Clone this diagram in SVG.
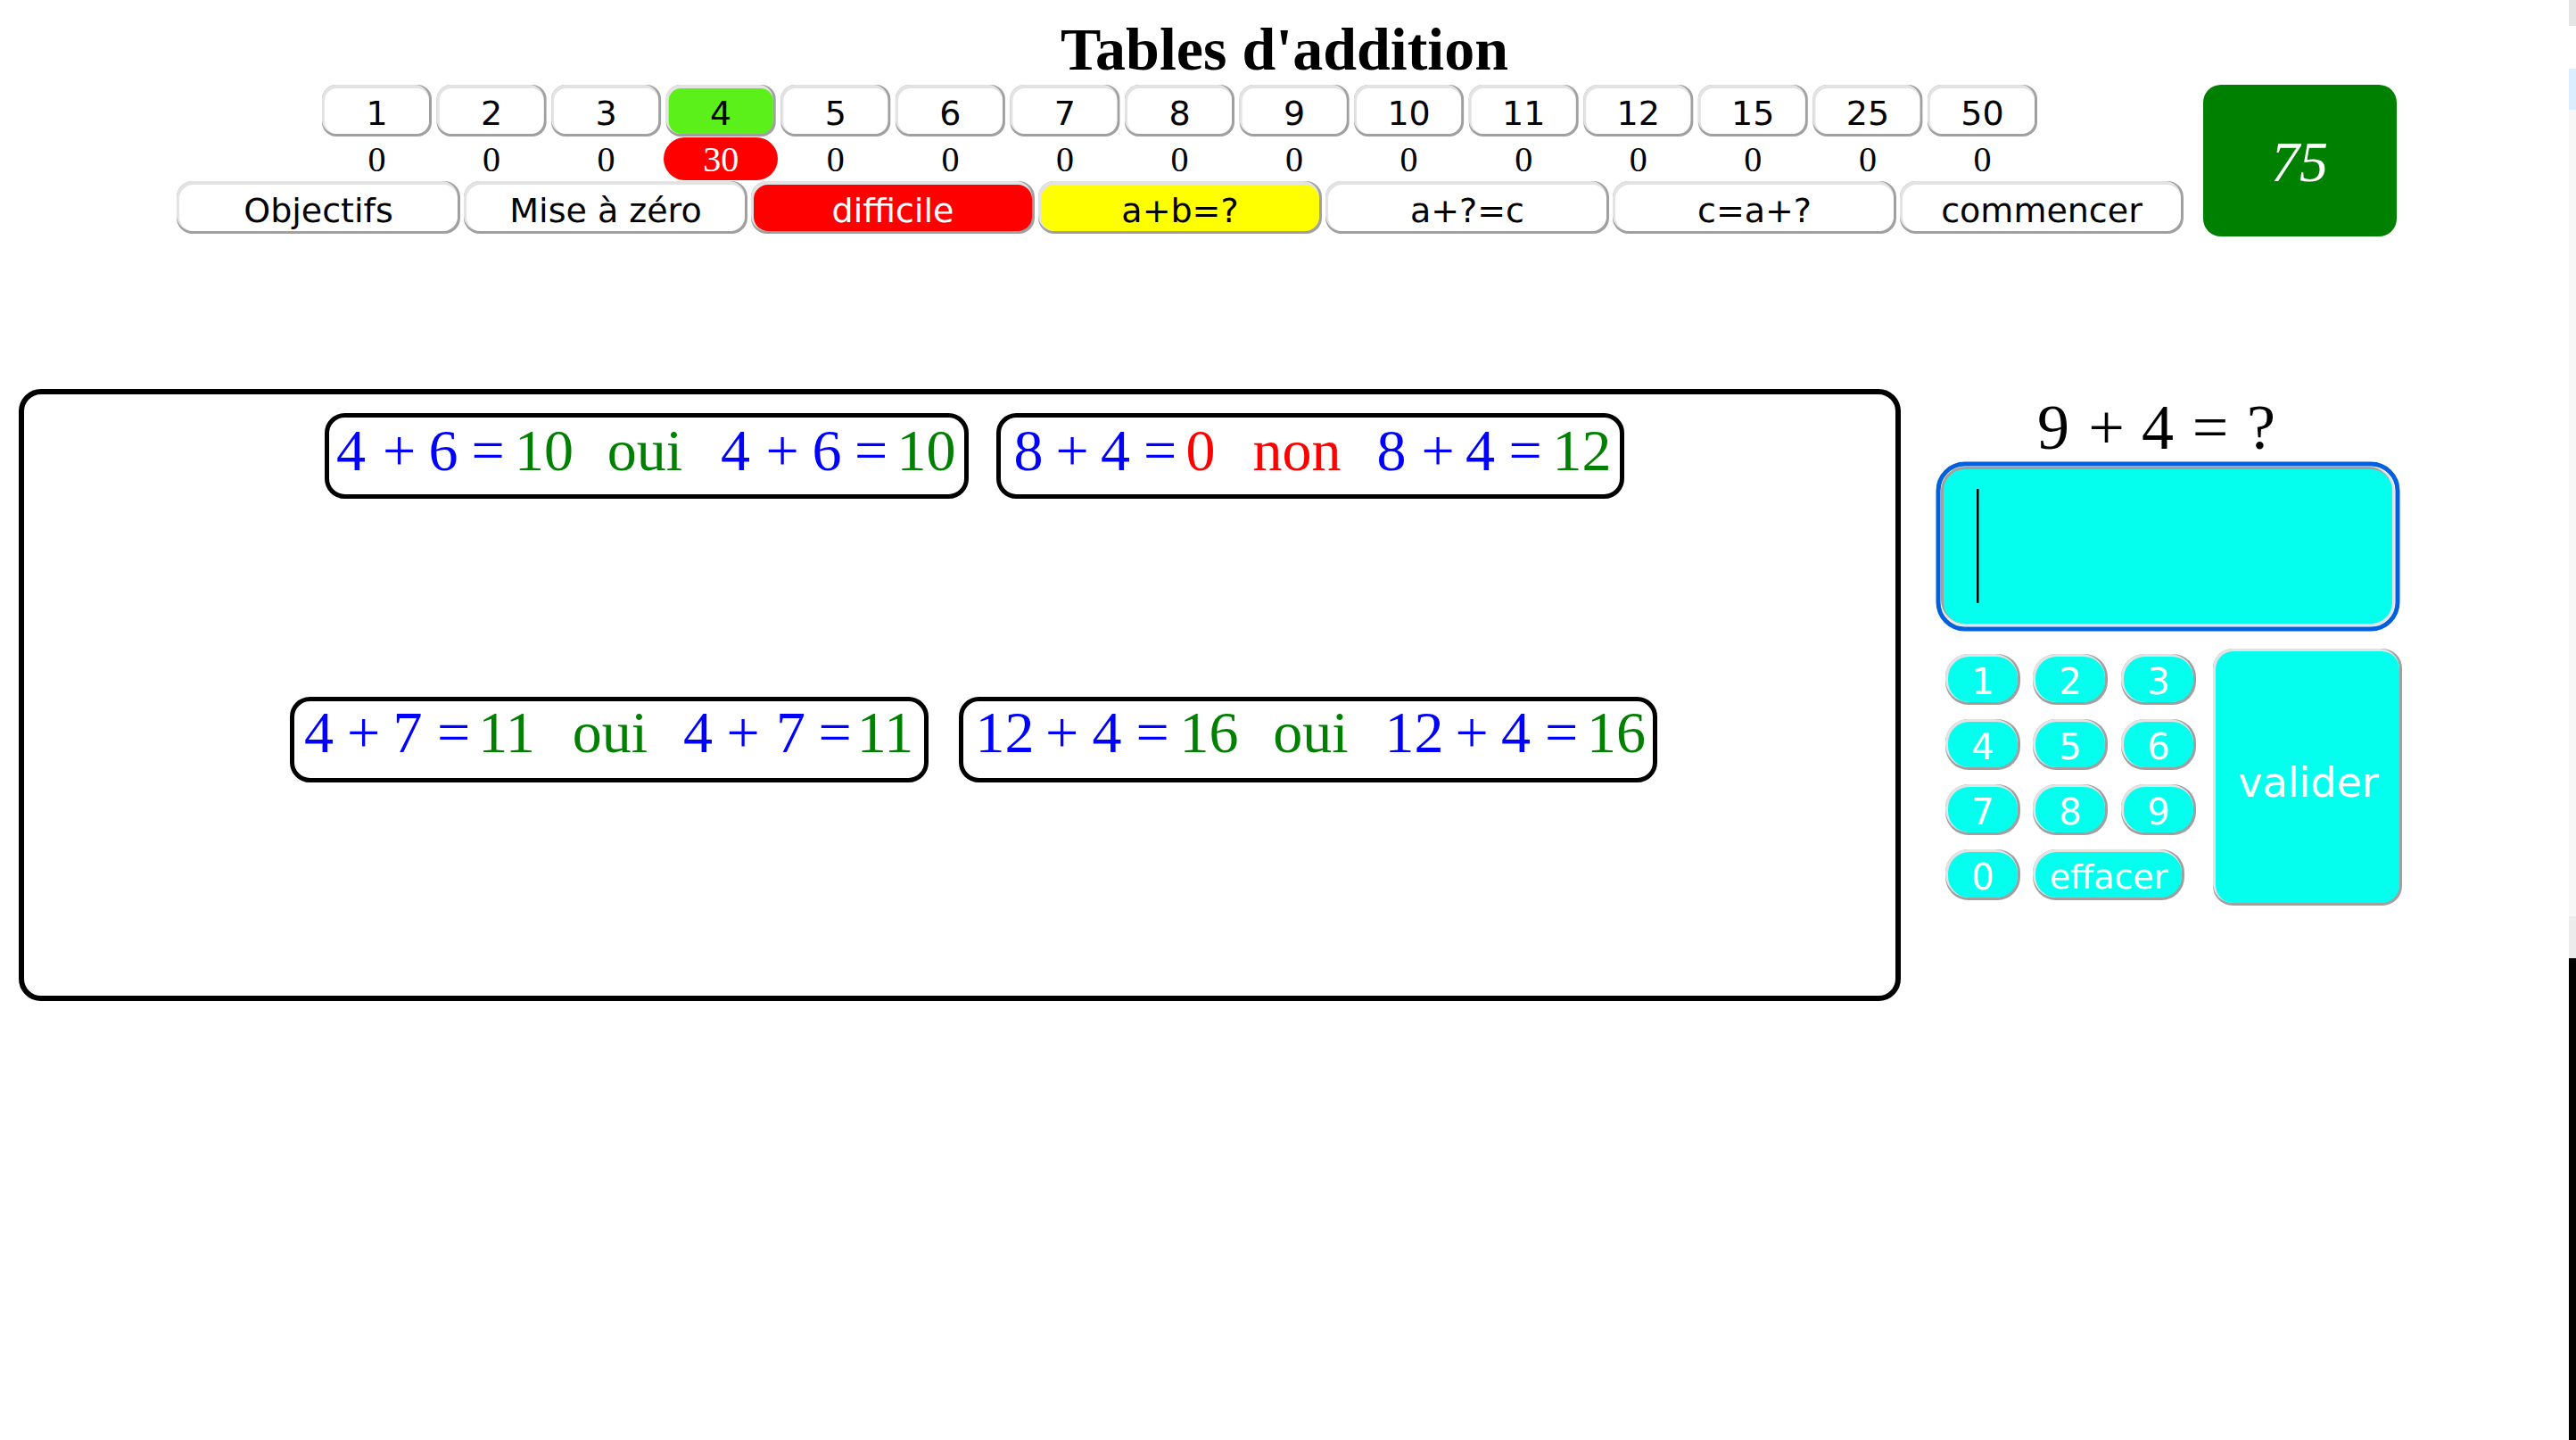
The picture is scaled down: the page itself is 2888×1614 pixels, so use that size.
<svg xmlns="http://www.w3.org/2000/svg" xmlns:xlink="http://www.w3.org/1999/xlink" width="2888" height="1614" viewBox="0 0 2888 1614">
<style>
.ti{font-family:"Liberation Serif","Times New Roman",serif;font-weight:bold;font-size:68px;fill:#000;text-anchor:middle}
.bt{font-family:"DejaVu Sans",Verdana,sans-serif;font-size:38px;fill:#000;text-anchor:middle}
.ct{font-family:"Liberation Serif","Times New Roman",serif;font-size:40px;fill:#000;text-anchor:middle}
.eq{font-family:"Liberation Serif","Times New Roman",serif;font-size:66px;text-anchor:middle}
.b{fill:#0000ff}.g{fill:#008000}.r{fill:#ff0000}
.q{font-family:"Liberation Serif","Times New Roman",serif;font-size:72px;fill:#000;text-anchor:middle}
.kp{font-family:"DejaVu Sans",Verdana,sans-serif;font-size:40px;fill:#fff;text-anchor:middle}
.box{fill:none;stroke:#000;stroke-width:5}
.dk{fill:#a0a0a0}.lt{fill:#e3e3e3}
</style>
<defs>
<g id="btnN"><rect class="dk" x="0" y="0" width="123" height="58" rx="16"/><rect class="lt" x="0" y="0" width="120" height="55" rx="16"/><rect x="3" y="4" width="117" height="51" rx="14" fill="currentColor"/></g>
<g id="btnW"><rect class="dk" x="0" y="0" width="318" height="59" rx="18"/><rect class="lt" x="0" y="0" width="315" height="56" rx="18"/><rect x="3" y="4" width="312" height="52" rx="16" fill="currentColor"/></g>
<g id="btnK"><rect class="dk" x="0" y="0" width="84" height="57" rx="26"/><rect class="lt" x="0" y="0" width="81" height="54" rx="26"/><rect x="3" y="3" width="78" height="51" rx="24" fill="#05ffee"/></g>
</defs>

<rect x="0" y="0" width="2888" height="1614" fill="#ffffff"/>

<g id="title"><text class="ti" x="1440" y="78">Tables d'addition</text></g>

<g id="tables">
<use xlink:href="#btnN" x="361" y="95" style="color:#fff"/><text class="bt" x="422.5" y="140">1</text>
<use xlink:href="#btnN" x="489.6" y="95" style="color:#fff"/><text class="bt" x="551.1" y="140">2</text>
<use xlink:href="#btnN" x="618.1" y="95" style="color:#fff"/><text class="bt" x="679.6" y="140">3</text>
<use xlink:href="#btnN" x="746.7" y="95" style="color:#5bf01a"/><text class="bt" x="808.2" y="140">4</text>
<use xlink:href="#btnN" x="875.3" y="95" style="color:#fff"/><text class="bt" x="936.8" y="140">5</text>
<use xlink:href="#btnN" x="1003.9" y="95" style="color:#fff"/><text class="bt" x="1065.4" y="140">6</text>
<use xlink:href="#btnN" x="1132.4" y="95" style="color:#fff"/><text class="bt" x="1193.9" y="140">7</text>
<use xlink:href="#btnN" x="1261" y="95" style="color:#fff"/><text class="bt" x="1322.5" y="140">8</text>
<use xlink:href="#btnN" x="1389.6" y="95" style="color:#fff"/><text class="bt" x="1451.1" y="140">9</text>
<use xlink:href="#btnN" x="1518.1" y="95" style="color:#fff"/><text class="bt" x="1579.6" y="140">10</text>
<use xlink:href="#btnN" x="1646.7" y="95" style="color:#fff"/><text class="bt" x="1708.2" y="140">11</text>
<use xlink:href="#btnN" x="1775.3" y="95" style="color:#fff"/><text class="bt" x="1836.8" y="140">12</text>
<use xlink:href="#btnN" x="1903.8" y="95" style="color:#fff"/><text class="bt" x="1965.3" y="140">15</text>
<use xlink:href="#btnN" x="2032.4" y="95" style="color:#fff"/><text class="bt" x="2093.9" y="140">25</text>
<use xlink:href="#btnN" x="2161" y="95" style="color:#fff"/><text class="bt" x="2222.5" y="140">50</text>
</g>

<g id="counts">
<rect x="744" y="154" width="128" height="48" rx="24" fill="#ff0000"/>
<text class="ct" x="422.5" y="192">0</text>
<text class="ct" x="551.1" y="192">0</text>
<text class="ct" x="679.6" y="192">0</text>
<text class="ct" x="808.2" y="192" style="fill:#fff">30</text>
<text class="ct" x="936.8" y="192">0</text>
<text class="ct" x="1065.4" y="192">0</text>
<text class="ct" x="1193.9" y="192">0</text>
<text class="ct" x="1322.5" y="192">0</text>
<text class="ct" x="1451.1" y="192">0</text>
<text class="ct" x="1579.6" y="192">0</text>
<text class="ct" x="1708.2" y="192">0</text>
<text class="ct" x="1836.8" y="192">0</text>
<text class="ct" x="1965.3" y="192">0</text>
<text class="ct" x="2093.9" y="192">0</text>
<text class="ct" x="2222.5" y="192">0</text>
</g>

<g id="actions">
<use xlink:href="#btnW" x="198" y="203" style="color:#fff"/><text class="bt" x="357" y="249">Objectifs</text>
<use xlink:href="#btnW" x="520" y="203" style="color:#fff"/><text class="bt" x="679" y="249">Mise à zéro</text>
<use xlink:href="#btnW" x="842" y="203" style="color:#ff0000"/><text class="bt" x="1001" y="249" style="fill:#fff">difficile</text>
<use xlink:href="#btnW" x="1164" y="203" style="color:#ffff00"/><text class="bt" x="1323" y="249">a+b=?</text>
<use xlink:href="#btnW" x="1486" y="203" style="color:#fff"/><text class="bt" x="1645" y="249">a+?=c</text>
<use xlink:href="#btnW" x="1808" y="203" style="color:#fff"/><text class="bt" x="1967" y="249">c=a+?</text>
<use xlink:href="#btnW" x="2130" y="203" style="color:#fff"/><text class="bt" x="2289" y="249">commencer</text>
</g>

<g id="score">
<rect x="2470" y="95" width="217" height="170" rx="20" fill="#008000"/>
<text x="2578" y="203" style="font-family:'Liberation Serif','Times New Roman',serif;font-style:italic;font-size:64px;fill:#fff;text-anchor:middle">75</text>
</g>

<g id="history">
<rect x="24" y="439" width="2104" height="680" rx="22" fill="none" stroke="#000" stroke-width="6"/>
</g>

<g id="result1">
<rect class="box" x="366.5" y="465.5" width="717" height="91" rx="20"/>
<text class="eq b" x="393.5" y="527">4</text><text class="eq b" x="447.5" y="527">+</text><text class="eq b" x="497" y="527">6</text><text class="eq b" x="547" y="527">=</text><text class="eq g" x="610" y="527">10</text>
<text class="eq g" x="723" y="527">oui</text>
<text class="eq b" x="824.5" y="527">4</text><text class="eq b" x="877" y="527">+</text><text class="eq b" x="927" y="527">6</text><text class="eq b" x="976.5" y="527">=</text><text class="eq g" x="1038.5" y="527">10</text>
</g>

<g id="result2">
<rect class="box" x="1119.5" y="465.5" width="699" height="91" rx="20"/>
<text class="eq b" x="1153" y="527">8</text><text class="eq b" x="1202" y="527">+</text><text class="eq b" x="1250.5" y="527">4</text><text class="eq b" x="1300.5" y="527">=</text><text class="eq r" x="1346" y="527">0</text>
<text class="eq r" x="1454" y="527">non</text>
<text class="eq b" x="1560" y="527">8</text><text class="eq b" x="1612" y="527">+</text><text class="eq b" x="1659.5" y="527">4</text><text class="eq b" x="1710" y="527">=</text><text class="eq g" x="1773.5" y="527">12</text>
</g>

<g id="result3">
<rect class="box" x="327.5" y="783.5" width="711" height="91" rx="20"/>
<text class="eq b" x="357.5" y="843">4</text><text class="eq b" x="407.5" y="843">+</text><text class="eq b" x="457" y="843">7</text><text class="eq b" x="508.5" y="843">=</text><text class="eq g" x="568" y="843">11</text>
<text class="eq g" x="684" y="843">oui</text>
<text class="eq b" x="782.5" y="843">4</text><text class="eq b" x="833" y="843">+</text><text class="eq b" x="886.5" y="843">7</text><text class="eq b" x="936" y="843">=</text><text class="eq g" x="992.5" y="843">11</text>
</g>

<g id="result4">
<rect class="box" x="1077.5" y="783.5" width="778" height="91" rx="20"/>
<text class="eq b" x="1126.5" y="843">12</text><text class="eq b" x="1190.5" y="843">+</text><text class="eq b" x="1241" y="843">4</text><text class="eq b" x="1292" y="843">=</text><text class="eq g" x="1355.5" y="843">16</text>
<text class="eq g" x="1469.5" y="843">oui</text>
<text class="eq b" x="1585.5" y="843">12</text><text class="eq b" x="1650" y="843">+</text><text class="eq b" x="1699.5" y="843">4</text><text class="eq b" x="1750.5" y="843">=</text><text class="eq g" x="1812" y="843">16</text>
</g>

<g id="question">
<text class="q" x="2302" y="503">9</text><text class="q" x="2361.5" y="503">+</text><text class="q" x="2419" y="503">4</text><text class="q" x="2478" y="503">=</text><text class="q" x="2535" y="503">?</text>
</g>

<g id="answer">
<rect x="2173" y="520" width="515" height="185" rx="30" fill="none" stroke="#0060df" stroke-width="5"/>
<rect x="2176" y="523" width="509" height="179" rx="27" fill="#e3e3e3"/>
<rect x="2176" y="523" width="506" height="176" rx="27" fill="#a0a0a0"/>
<rect x="2179" y="526" width="503" height="173" rx="24" fill="#05ffee"/>
<rect x="2216" y="548" width="2.5" height="128" fill="#000"/>
</g>

<g id="keypad">
<use xlink:href="#btnK" x="2181" y="733"/><text class="kp" x="2223" y="778">1</text>
<use xlink:href="#btnK" x="2279" y="733"/><text class="kp" x="2321" y="778">2</text>
<use xlink:href="#btnK" x="2378" y="733"/><text class="kp" x="2420" y="778">3</text>
<use xlink:href="#btnK" x="2181" y="806"/><text class="kp" x="2223" y="851">4</text>
<use xlink:href="#btnK" x="2279" y="806"/><text class="kp" x="2321" y="851">5</text>
<use xlink:href="#btnK" x="2378" y="806"/><text class="kp" x="2420" y="851">6</text>
<use xlink:href="#btnK" x="2181" y="879"/><text class="kp" x="2223" y="924">7</text>
<use xlink:href="#btnK" x="2279" y="879"/><text class="kp" x="2321" y="924">8</text>
<use xlink:href="#btnK" x="2378" y="879"/><text class="kp" x="2420" y="924">9</text>
<use xlink:href="#btnK" x="2181" y="952"/><text class="kp" x="2223" y="997">0</text>
<g id="effacer"><rect class="dk" x="2279" y="952" width="170" height="57" rx="26"/><rect class="lt" x="2279" y="952" width="167" height="54" rx="26"/><rect x="2282" y="955" width="164" height="51" rx="24" fill="#05ffee"/><text class="kp" x="2364" y="996" style="font-size:38px">effacer</text></g>
<g id="valider"><rect class="dk" x="2481" y="727" width="212" height="288" rx="22"/><rect class="lt" x="2481" y="727" width="209" height="285" rx="22"/><rect x="2484" y="730" width="206" height="282" rx="20" fill="#05ffee"/><text class="kp" x="2588" y="893" style="font-size:46px">valider</text></g>
</g>

<g id="edge">
<rect x="2880" y="0" width="8" height="29" fill="#e5e5e5"/>
<rect x="2880" y="77" width="8" height="46" fill="#dbeeff"/>
<rect x="2880" y="123" width="8" height="904" fill="#f7f7f7"/>
<rect x="2880" y="1027" width="8" height="47" fill="#ececec"/>
<rect x="2880" y="1074" width="8" height="540" fill="#000"/>
</g>
</svg>
